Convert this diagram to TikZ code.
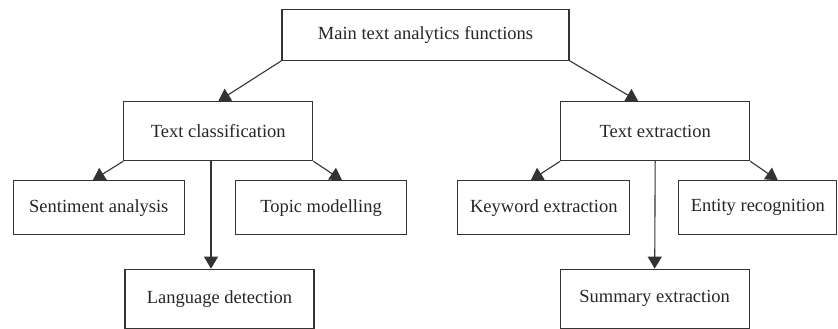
\documentclass[tikz,border=0pt]{standalone}
\usepackage{fontspec}
\setmainfont{Liberation Serif}
\usepackage{tikz}
\usetikzlibrary{arrows.meta}

\begin{document}
\begin{tikzpicture}[x=1pt, y=-1pt,
    box/.style={rectangle, draw=black!80, line width=1.1pt, text=black!85, font=\fontsize{18.5}{22}\selectfont, inner sep=0pt},
    link/.style={draw=black!80, line width=1.1pt, -{Triangle[length=12pt, width=14pt]}}]
            \useasboundingbox (0, 0) rectangle (838, 329);

            \node[box, minimum width=287pt, minimum height=51pt] (main) at (425.5, 34.7) {Main text analytics functions};
            \node[box, minimum width=189pt, minimum height=59pt] (tc) at (218.3, 131.2) {Text classification};
            \node[box, minimum width=189pt, minimum height=59pt] (te) at (655.2, 131.2) {Text extraction};
            \node[box, minimum width=171pt, minimum height=54pt] (sa) at (98.8, 207.8) {Sentiment analysis};
            \node[box, minimum width=171pt, minimum height=54pt] (tm) at (321, 207.8) {Topic modelling};
            \node[box, minimum width=172pt, minimum height=54pt] (ke) at (543.8, 207.8) {Keyword extraction};
            \node[box, minimum width=158pt, minimum height=54pt] (er) at (757.8, 207.8) {Entity recognition};
            \node[box, minimum width=189pt, minimum height=59pt] (ld) at (219.5, 298.7) {Language detection};
            \node[box, minimum width=189pt, minimum height=59pt] (se) at (654.7, 298.7) {Summary extraction};

            \draw[link] (main.south west) -- (tc.north);
            \draw[link] (main.south east) -- ([xshift=-17pt]te.north);
            \draw[link] (tc.south west) -- ([xshift=-6pt]sa.north);
            \draw[link] (tc.south east) -- ([xshift=21pt]tm.north);
            \draw[link] ([xshift=-7.3pt]tc.south) -- ([xshift=-8.5pt]ld.north);
            \draw[link] (te.south west) -- ([xshift=-13pt]ke.north);
            \draw[link] (te.south east) -- ([xshift=20pt]er.north);
            \draw[link] (te.south) -- (se.north);
        \end{tikzpicture}
\end{document}
